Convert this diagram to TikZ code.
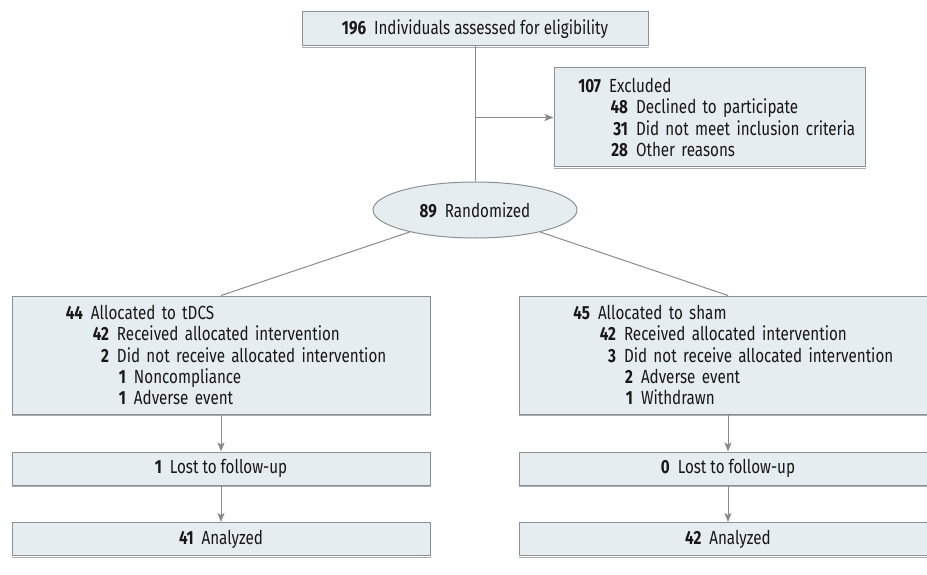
\documentclass[tikz,border=0pt]{standalone}
\usepackage{fontspec}
\setmainfont[FakeStretch=0.8]{Fira Sans}
\usetikzlibrary{arrows.meta,shapes.geometric}
\definecolor{boxfill}{HTML}{E6EDF1}
\definecolor{boxline}{HTML}{8C9094}
\definecolor{boxshade}{HTML}{A9ADB0}
\definecolor{txt}{HTML}{1A1718}
\definecolor{conn}{HTML}{8A8A8A}
\newcommand{\lvl}[3]{\hspace*{#1pt}\llap{\textbf{#2}}\hspace{8pt}#3}
\tikzset{
  base/.style={draw=boxline, fill=boxfill, line width=1pt, inner sep=0pt, text=txt,
    font=\fontsize{19}{21.3}\selectfont},
  flowbox/.style={base, rectangle, minimum width=418pt, minimum height=33pt, align=center},
  listbox/.style={base, rectangle, minimum width=#1, text width=#1, align=left},
  ovalnode/.style={base, ellipse, minimum width=204pt, minimum height=56pt},
  conline/.style={draw=conn, line width=1pt},
  conarrow/.style={conline, -{Stealth[length=9pt,width=7pt,inset=2pt]}},
  shade/.style={draw=boxshade, line width=1pt}
}
\begin{document}
\begin{tikzpicture}[x=1pt,y=-1pt]
\useasboundingbox (0,0) rectangle (927,575);
\fill[white] (0,0) rectangle (927,575);

\node[flowbox, minimum width=346pt, minimum height=34pt] (top) at (475,29)
  {\textbf{196}\hspace{8pt}Individuals assessed for eligibility};

\node[listbox=311pt, minimum height=99pt] (excl) at (709.5,117.5)
  {\lvl{47}{107}{Excluded}\\
   \lvl{74}{48}{Declined to participate}\\
   \lvl{74}{31}{Did not meet inclusion criteria}\\
   \lvl{74}{28}{Other reasons}};

\node[ovalnode] (rand) at (475,210) {\textbf{89}\hspace{8pt}Randomized};

\node[listbox=418pt, minimum height=118pt] (tdcs) at (221,355)
  {\lvl{71}{44}{Allocated to tDCS}\\
   \lvl{97}{42}{Received allocated intervention}\\
   \lvl{97}{2}{Did not receive allocated intervention}\\
   \lvl{114}{1}{Noncompliance}\\
   \lvl{114}{1}{Adverse event}};

\node[listbox=418pt, minimum height=118pt] (sham) at (728,355)
  {\lvl{71}{45}{Allocated to sham}\\
   \lvl{97}{42}{Received allocated intervention}\\
   \lvl{97}{3}{Did not receive allocated intervention}\\
   \lvl{114}{2}{Adverse event}\\
   \lvl{114}{1}{Withdrawn}};

\node[flowbox] (lostL) at (221,468.5) {\textbf{1}\hspace{8pt}Lost to follow-up};
\node[flowbox] (lostR) at (728,468.5) {\textbf{0}\hspace{8pt}Lost to follow-up};
\node[flowbox] (anaL) at (221,539) {\textbf{41}\hspace{8pt}Analyzed};
\node[flowbox] (anaR) at (728,539) {\textbf{42}\hspace{8pt}Analyzed};

\foreach \n in {top,excl,tdcs,sham,lostL,lostR,anaL,anaR}{
  \draw[shade] ([yshift=-1pt]\n.south west) -- ([yshift=-1pt]\n.south east);
}

\coordinate (branch) at (top.south |- excl.west);
\draw[conline] (top.south) -- (rand.north);
\draw[conarrow] (branch) -- (excl.west);
\draw[conline] (rand) -- (tdcs.north);
\draw[conline] (rand) -- (sham.north);
\draw[conarrow] (tdcs.south) -- (lostL.north);
\draw[conarrow] (sham.south) -- (lostR.north);
\draw[conarrow] (lostL.south) -- (anaL.north);
\draw[conarrow] (lostR.south) -- (anaR.north);
\end{tikzpicture}
\end{document}
